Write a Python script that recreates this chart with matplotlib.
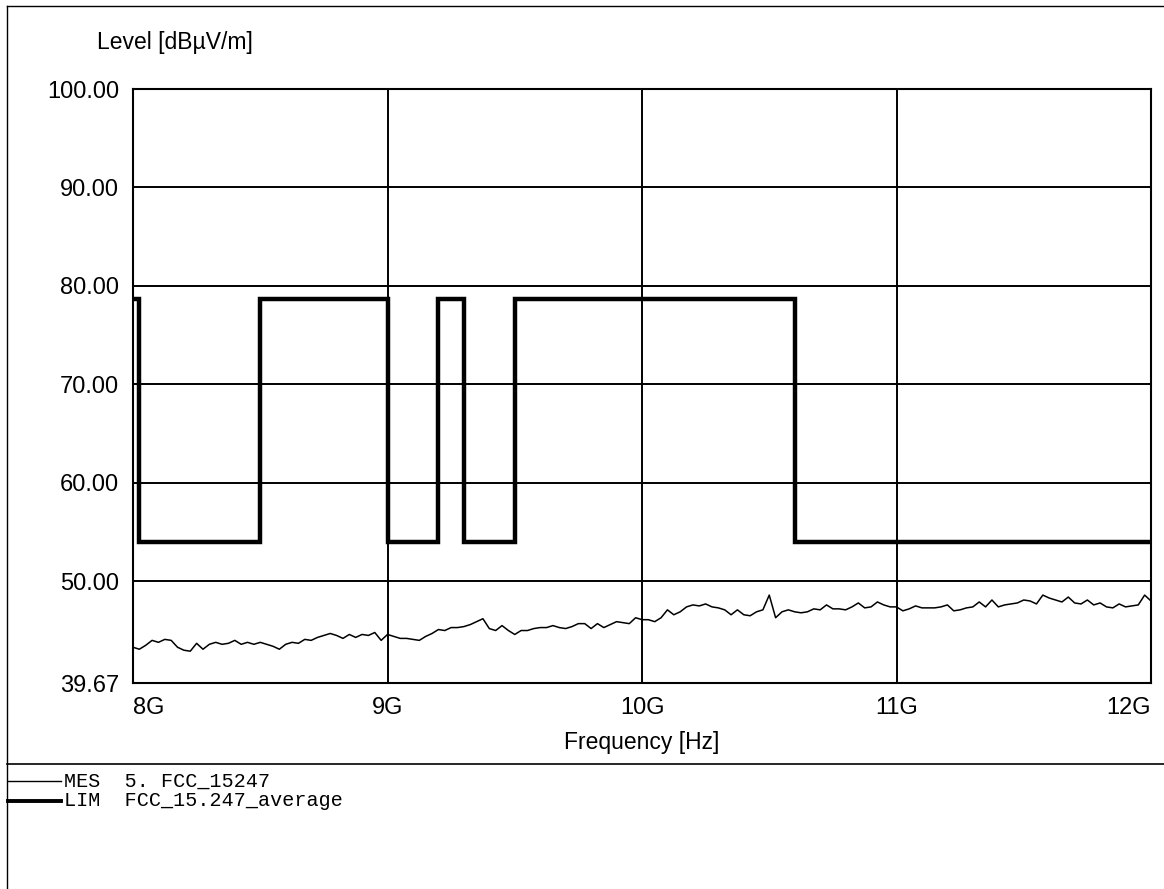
import numpy as np
import matplotlib
matplotlib.use("Agg")
import matplotlib.pyplot as plt
from matplotlib.lines import Line2D

# limit line FCC 15.247 average (corner points, GHz / dBuV/m)
lim_freq = [8.0, 8.025, 8.025, 8.5, 8.5, 9.0, 9.0, 9.2, 9.2, 9.3, 9.3, 9.5, 9.5, 10.6, 10.6, 12.0]
lim_level = [78.7, 78.7, 54.0, 54.0, 78.7, 78.7, 54.0, 54.0, 78.7, 78.7, 54.0, 54.0, 78.7, 78.7, 54.0, 54.0]

# measured trace, 8..12 GHz in 25 MHz steps
mes_8_9 = [43.3, 43.1, 43.5, 44.0, 43.8, 44.1, 44.0, 43.3, 43.0, 42.9,
           43.7, 43.1, 43.6, 43.8, 43.6, 43.7, 44.0, 43.6, 43.8, 43.6,
           43.8, 43.6, 43.4, 43.1, 43.6, 43.8, 43.7, 44.1, 44.0, 44.3,
           44.5, 44.7, 44.5, 44.2, 44.6, 44.3, 44.6, 44.5, 44.8, 44.0, 44.6]
mes_9_10 = [44.4, 44.2, 44.2, 44.1, 44.0, 44.4, 44.7, 45.1, 45.0,
            45.3, 45.3, 45.4, 45.6, 45.9, 46.2, 45.2, 45.0, 45.5, 45.0,
            44.6, 45.0, 45.0, 45.2, 45.3, 45.3, 45.5, 45.3, 45.2, 45.4,
            45.7, 45.7, 45.2, 45.7, 45.3, 45.6, 45.9, 45.8, 45.7, 46.3, 46.1]
mes_10_11 = [46.1, 45.9, 46.3, 47.1, 46.6, 46.9, 47.4, 47.6, 47.5,
             47.7, 47.4, 47.3, 47.1, 46.6, 47.1, 46.6, 46.5, 46.9, 47.1,
             48.6, 46.3, 46.9, 47.1, 46.9, 46.8, 46.9, 47.2, 47.1, 47.6,
             47.2, 47.2, 47.1, 47.4, 47.8, 47.3, 47.4, 47.9, 47.6, 47.4, 47.4]
mes_11_12 = [47.0, 47.2, 47.5, 47.3, 47.3, 47.3, 47.4, 47.6, 47.0,
             47.1, 47.3, 47.4, 47.9, 47.4, 48.1, 47.4, 47.6, 47.7, 47.8,
             48.1, 48.0, 47.7, 48.6, 48.3, 48.1, 47.9, 48.4, 47.8, 47.7,
             48.1, 47.6, 47.8, 47.4, 47.3, 47.7, 47.4, 47.5, 47.6, 48.6, 48.0]
mes_level = mes_8_9 + mes_9_10 + mes_10_11 + mes_11_12
mes_freq = np.linspace(8.0, 12.0, len(mes_level))

y_ticks = [39.67, 50, 60, 70, 80, 90, 100]
y_labels = ['39.67', '50.00', '60.00', '70.00', '80.00', '90.00', '100.00']
x_ticks = [8, 9, 10, 11, 12]
x_labels = ['8G', '9G', '10G', '11G', '12G']

plt.rcParams['font.family'] = ['Liberation Sans', 'DejaVu Sans']

fig = plt.figure(figsize=(11.64, 8.89), dpi=100)
ax = fig.add_axes([133/1164, 1-683/889, (1151-133)/1164, (683-89)/889])

for y in [50, 60, 70, 80, 90]:
    ax.axhline(y, color='black', lw=1.4, zorder=1)
for x in [9, 10, 11]:
    ax.axvline(x, color='black', lw=1.4, zorder=1)

ax.plot(mes_freq, mes_level, color='black', lw=1.1, zorder=3)
ax.plot(lim_freq, lim_level, color='black', lw=3.2, solid_joinstyle='miter', zorder=4)

ax.set_xlim(8, 12)
ax.set_ylim(39.67, 100)
ax.set_yticks(y_ticks)
ax.set_yticklabels(y_labels, fontsize=17)
ax.set_xticks(x_ticks)
ax.set_xticklabels(x_labels, fontsize=17)
ax.tick_params(length=0, pad=10)
ax.get_xticklabels()[0].set_ha('left')
ax.get_xticklabels()[-1].set_ha('right')
for s in ax.spines.values():
    s.set_linewidth(1.5)

fig.text(97/1164, 1-43/889, 'Level [dBµV/m]', fontsize=16.5, va='center', ha='left')
fig.text(642/1164, 1-742/889, 'Frequency [Hz]', fontsize=16.5, va='center', ha='center')

# page frame and legend block
fig.add_artist(Line2D([7/1164, 7/1164], [0, 1-6/889], color='black', lw=1.0))
fig.add_artist(Line2D([7/1164, 1], [1-6/889, 1-6/889], color='black', lw=1.0))
fig.add_artist(Line2D([7/1164, 1], [1-764/889, 1-764/889], color='black', lw=1.2))
fig.add_artist(Line2D([8/1164, 61/1164], [1-781/889, 1-781/889], color='black', lw=1.0))
fig.add_artist(Line2D([8/1164, 61/1164], [1-801/889, 1-801/889], color='black', lw=2.8))
fig.text(64/1164, 1-781/889, 'MES  5. FCC_15247', family='Liberation Mono', fontsize=14.5, va='center')
fig.text(64/1164, 1-801/889, 'LIM  FCC_15.247_average', family='Liberation Mono', fontsize=14.5, va='center')

fig.savefig('out.png', dpi=100)
